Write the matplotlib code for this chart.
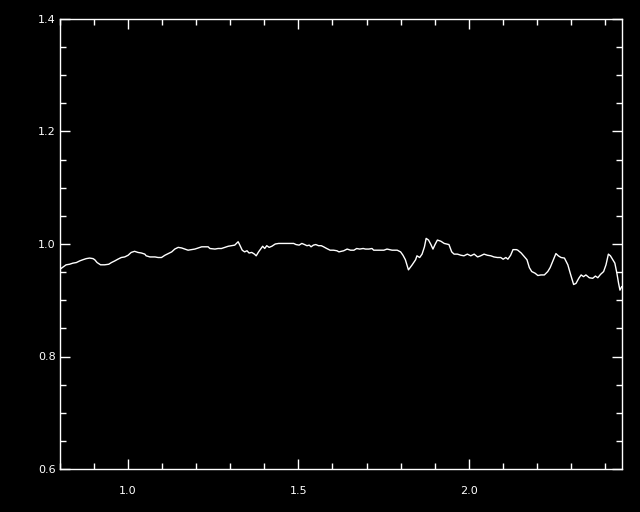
import matplotlib
matplotlib.use("Agg")
import matplotlib.pyplot as plt
from matplotlib.ticker import MultipleLocator

# wavelength-like x axis and normalised ratio
x = [0.802, 0.809, 0.818, 0.828, 0.838, 0.848, 0.858, 0.867, 0.877, 0.887,
     0.897, 0.902, 0.909, 0.919, 0.931, 0.943, 0.951, 0.961, 0.970, 0.980,
     0.990, 1.000, 1.009, 1.019, 1.029, 1.039, 1.049, 1.053, 1.064, 1.079,
     1.088, 1.098, 1.108, 1.118, 1.128, 1.137, 1.147, 1.157, 1.167, 1.176,
     1.186, 1.196, 1.206, 1.216, 1.225, 1.235, 1.240, 1.255, 1.264, 1.274,
     1.284, 1.294, 1.304, 1.313, 1.323, 1.328, 1.335, 1.342, 1.349, 1.355,
     1.363, 1.371, 1.376, 1.383, 1.390, 1.395, 1.401, 1.407, 1.414, 1.422,
     1.432, 1.442, 1.456, 1.471, 1.486, 1.493, 1.502, 1.510, 1.518, 1.525,
     1.532, 1.537, 1.544, 1.551, 1.559, 1.567, 1.574, 1.583, 1.593, 1.603,
     1.613, 1.619, 1.633, 1.643, 1.653, 1.663, 1.671, 1.680, 1.690, 1.697,
     1.707, 1.716, 1.721, 1.731, 1.751, 1.760, 1.775, 1.790, 1.800, 1.807,
     1.814, 1.823, 1.834, 1.844, 1.848, 1.856, 1.863, 1.870, 1.875, 1.882,
     1.889, 1.895, 1.901, 1.908, 1.918, 1.928, 1.942, 1.950, 1.957, 1.967,
     1.977, 1.986, 1.996, 2.006, 2.016, 2.026, 2.035, 2.045, 2.055, 2.065,
     2.074, 2.084, 2.094, 2.101, 2.109, 2.115, 2.123, 2.130, 2.140, 2.144,
     2.154, 2.164, 2.171, 2.178, 2.185, 2.195, 2.203, 2.212, 2.222, 2.232,
     2.239, 2.247, 2.256, 2.263, 2.271, 2.281, 2.291, 2.299, 2.308, 2.315,
     2.323, 2.330, 2.337, 2.344, 2.354, 2.364, 2.372, 2.379, 2.387, 2.396,
     2.403, 2.410, 2.416, 2.423, 2.429, 2.435, 2.440, 2.444, 2.449]
y = [0.956, 0.959, 0.963, 0.964, 0.966, 0.967, 0.970, 0.972, 0.974, 0.975,
     0.974, 0.972, 0.967, 0.963, 0.963, 0.964, 0.967, 0.970, 0.973, 0.976,
     0.977, 0.980, 0.985, 0.987, 0.985, 0.984, 0.982, 0.979, 0.977, 0.977,
     0.976, 0.976, 0.980, 0.983, 0.986, 0.991, 0.994, 0.993, 0.991, 0.989,
     0.990, 0.991, 0.993, 0.995, 0.995, 0.995, 0.992, 0.991, 0.992, 0.992,
     0.994, 0.996, 0.997, 0.998, 1.004, 0.998, 0.989, 0.986, 0.988, 0.984,
     0.985, 0.982, 0.979, 0.986, 0.992, 0.996, 0.992, 0.997, 0.994, 0.996,
     1.000, 1.001, 1.001, 1.001, 1.001, 0.999, 0.998, 1.001, 0.999, 0.997,
     0.998, 0.995, 0.998, 0.999, 0.997, 0.997, 0.995, 0.992, 0.989, 0.989,
     0.988, 0.986, 0.988, 0.991, 0.989, 0.989, 0.992, 0.991, 0.992, 0.991,
     0.991, 0.992, 0.989, 0.989, 0.989, 0.991, 0.989, 0.989, 0.986, 0.980,
     0.972, 0.954, 0.963, 0.972, 0.979, 0.976, 0.982, 0.995, 1.010, 1.007,
     0.999, 0.991, 0.999, 1.007, 1.005, 1.001, 0.999, 0.986, 0.982, 0.982,
     0.980, 0.979, 0.982, 0.979, 0.982, 0.977, 0.979, 0.982, 0.980, 0.979,
     0.977, 0.976, 0.976, 0.973, 0.976, 0.973, 0.980, 0.990, 0.990, 0.989,
     0.984, 0.977, 0.972, 0.958, 0.951, 0.948, 0.944, 0.945, 0.945, 0.951,
     0.958, 0.970, 0.983, 0.979, 0.976, 0.975, 0.963, 0.946, 0.928, 0.930,
     0.939, 0.945, 0.942, 0.945, 0.940, 0.939, 0.943, 0.940, 0.946, 0.951,
     0.963, 0.982, 0.979, 0.972, 0.966, 0.948, 0.930, 0.918, 0.924]

fig = plt.figure(figsize=(6.4, 5.12), dpi=100, facecolor="black")
ax = fig.add_axes([60/640, 43/512, 562/640, 450/512], facecolor="black")

ax.plot(x, y, color="white", lw=1.0)

ax.set_xlim(0.8, 2.45)
ax.set_ylim(0.6, 1.4)
ax.xaxis.set_major_locator(MultipleLocator(0.5))
ax.xaxis.set_minor_locator(MultipleLocator(0.1))
ax.yaxis.set_major_locator(MultipleLocator(0.2))
ax.yaxis.set_minor_locator(MultipleLocator(0.05))

for s in ax.spines.values():
    s.set_color("white")
    s.set_linewidth(1.0)

ax.tick_params(which="both", direction="in", colors="white",
               top=True, right=True, width=1.0)
ax.tick_params(which="major", length=7.5)
ax.tick_params(which="minor", length=4)
ax.tick_params(axis="x", which="major", pad=12, labelsize=8)
ax.tick_params(axis="y", which="major", pad=3, labelsize=8)

fig.savefig("out.png", dpi=100, facecolor="black")
